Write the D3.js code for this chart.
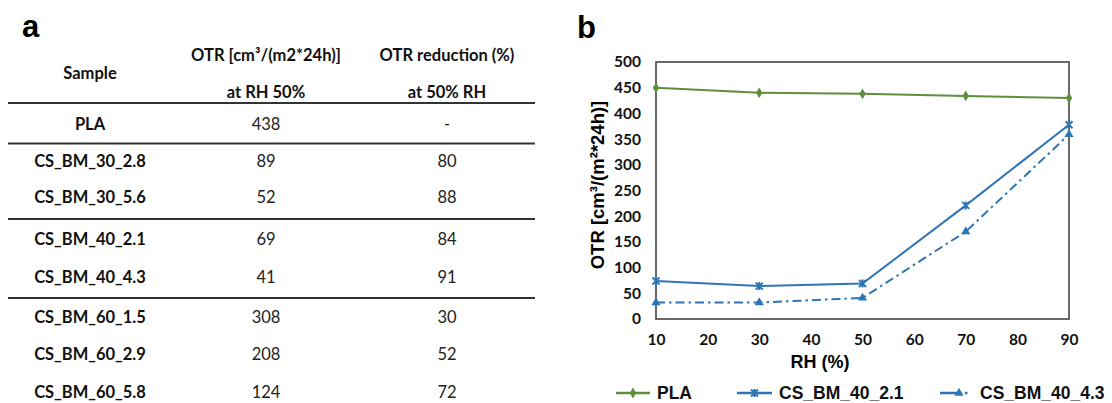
<!DOCTYPE html>
<html>
<head>
<meta charset="utf-8">
<script src="https://cdn.jsdelivr.net/npm/d3@7"></script>
<style>
  body { margin: 0; background: #fff; }
  svg { display: block; }
</style>
</head>
<body>
<script>
// table data (panel a)
var samples = ["PLA", "CS_BM_30_2.8", "CS_BM_30_5.6", "CS_BM_40_2.1", "CS_BM_40_4.3", "CS_BM_60_1.5", "CS_BM_60_2.9", "CS_BM_60_5.8"];
var otr50 = ["438", "89", "52", "69", "41", "308", "208", "124"];
var reduction = ["-", "80", "88", "84", "91", "30", "52", "72"];
var groupEnds = [0, 2, 4]; // rule under these rows

// chart data (panel b)
var rh = [10, 30, 50, 70, 90];
var pla = [450, 440, 438, 434, 430];
var bm21 = [74, 64, 69, 221, 378];
var bm43 = [32, 32, 41, 170, 359];
var xTicks = [10, 20, 30, 40, 50, 60, 70, 80, 90];
var yTicks = [0, 50, 100, 150, 200, 250, 300, 350, 400, 450, 500];

var green = "#5e8e3e", blue = "#2e75b6";
var tableFont = "Lato, 'Open Sans', sans-serif";
var chartFont = "'Liberation Sans', Arial, sans-serif";

var svg = d3.select("body").append("svg").attr("width", 1112).attr("height", 403);

// ---------- panel a : table ----------
var tab = svg.append("g");
tab.append("text").attr("x", 22).attr("y", 37).text("a")
  .style("font-family", chartFont).style("font-weight", "bold").style("font-size", "31px");

var col = [90, 266, 447];
// rows are not evenly spaced in the picture, so fixed row centres
var rowCentres = [124, 161, 197, 239, 277, 317, 354, 392];

function hdr(x, y, t) {
  tab.append("text").attr("x", x).attr("y", y).attr("text-anchor", "middle").attr("dy", "0.35em")
    .text(t).style("font-family", tableFont).style("font-weight", "bold").style("font-size", "16.5px").style("fill", "#111");
}
hdr(col[0], 73, "Sample");
hdr(col[1], 55, "OTR [cm³/(m2*24h)]");
hdr(col[1], 92, "at RH 50%");
hdr(col[2], 55, "OTR reduction (%)");
hdr(col[2], 92, "at 50% RH");

tab.append("line").attr("x1", 8).attr("x2", 535).attr("y1", 103).attr("y2", 103)
  .attr("stroke", "#333").attr("stroke-width", 2.2);

var rows = tab.selectAll("g.row").data(samples).join("g").attr("class", "row")
  .attr("transform", function(d, i) { return "translate(0," + rowCentres[i] + ")"; });
rows.append("text").attr("x", col[0]).attr("text-anchor", "middle").attr("dy", "0.35em").text(function(d) { return d; })
  .style("font-family", tableFont).style("font-weight", "bold").style("font-size", "16.5px").style("fill", "#111");
rows.append("text").attr("x", col[1]).attr("text-anchor", "middle").attr("dy", "0.35em").text(function(d, i) { return otr50[i]; })
  .style("font-family", tableFont).style("font-size", "16.5px").style("fill", "#222");
rows.append("text").attr("x", col[2]).attr("text-anchor", "middle").attr("dy", "0.35em").text(function(d, i) { return reduction[i]; })
  .style("font-family", tableFont).style("font-size", "16.5px").style("fill", "#222");

tab.selectAll("line.sep").data(groupEnds).join("line").attr("class", "sep")
  .attr("x1", 8).attr("x2", 535)
  .attr("y1", function(i) { return (rowCentres[i] + rowCentres[i + 1]) / 2 + 1; })
  .attr("y2", function(i) { return (rowCentres[i] + rowCentres[i + 1]) / 2 + 1; })
  .attr("stroke", "#333").attr("stroke-width", 2);

// ---------- panel b : chart ----------
svg.append("text").attr("x", 577).attr("y", 38).text("b")
  .style("font-family", chartFont).style("font-weight", "bold").style("font-size", "31px");

var m = { left: 656, right: 1069, top: 62, bottom: 319 };
var x = d3.scaleLinear().domain([10, 90]).range([m.left, m.right]);
var y = d3.scaleLinear().domain([0, 500]).range([m.bottom, m.top]);

var chart = svg.append("g");

var yAxis = d3.axisLeft(y).tickValues(yTicks).tickSize(0).tickPadding(15);
var xAxis = d3.axisBottom(x).tickValues(xTicks).tickSize(0).tickPadding(15);
var gy = chart.append("g").attr("transform", "translate(" + m.left + ",0)").call(yAxis);
var gx = chart.append("g").attr("transform", "translate(0," + m.bottom + ")").call(xAxis);
[gx, gy].forEach(function(g) {
  g.select(".domain").remove();
  g.selectAll("text").style("font-family", "Lato, sans-serif").style("font-weight", "bold")
    .style("font-size", "15.5px").style("fill", "#111");
});

// plot frame
chart.append("rect").attr("x", m.left).attr("y", m.top)
  .attr("width", m.right - m.left).attr("height", m.bottom - m.top)
  .attr("fill", "none").attr("stroke", "#595959").attr("stroke-width", 1.8);

chart.append("text").attr("transform", "translate(598,185) rotate(-90)")
  .attr("text-anchor", "middle").attr("dy", "0.35em").text("OTR [cm³/(m²*24h)]")
  .style("font-family", chartFont).style("font-weight", "bold").style("font-size", "18.5px");
chart.append("text").attr("x", 820).attr("y", 368).attr("text-anchor", "middle").text("RH (%)")
  .style("font-family", chartFont).style("font-weight", "bold").style("font-size", "18px");

var line = d3.line().x(function(d) { return x(d[0]); }).y(function(d) { return y(d[1]); });

var series = [
  { name: "PLA", vals: pla, color: green, dash: null, marker: "diamond" },
  { name: "CS_BM_40_2.1", vals: bm21, color: blue, dash: null, marker: "star" },
  { name: "CS_BM_40_4.3", vals: bm43, color: blue, dash: "9,4,2.5,4", marker: "triangle" }
];

function drawMarker(g, type, color) {
  if (type === "diamond") {
    g.append("path").attr("d", d3.symbol(d3.symbolDiamond, 34)()).attr("fill", color);
  } else if (type === "triangle") {
    g.append("path").attr("d", d3.symbol(d3.symbolTriangle, 36)()).attr("fill", color);
  } else {
    g.append("path").attr("d", "M-3.5,-3.5L3.5,3.5M-3.5,3.5L3.5,-3.5M0,-4L0,4")
      .attr("stroke", color).attr("stroke-width", 2).attr("fill", "none");
  }
}

series.forEach(function(s) {
  var pts = rh.map(function(r, i) { return [r, s.vals[i]]; });
  chart.append("path").datum(pts).attr("d", line).attr("fill", "none")
    .attr("stroke", s.color).attr("stroke-width", 2).attr("stroke-dasharray", s.dash);
  chart.selectAll(null).data(pts).join("g")
    .attr("transform", function(d) { return "translate(" + x(d[0]) + "," + y(d[1]) + ")"; })
    .each(function() { drawMarker(d3.select(this), s.marker, s.color); });
});

// legend
var legendX = [616, 737, 940];
var legendW = [34, 35, 30];
var leg = svg.selectAll("g.leg").data(series).join("g").attr("class", "leg")
  .attr("transform", function(d, i) { return "translate(" + legendX[i] + ",393)"; });
leg.append("line").attr("x1", 0).attr("x2", function(d, i) { return legendW[i]; })
  .attr("stroke", function(d) { return d.color; }).attr("stroke-width", 2.5)
  .attr("stroke-dasharray", function(d) { return d.dash ? "20,5,2.5,5" : null; });
leg.each(function(d, i) {
  var g = d3.select(this).append("g").attr("transform", "translate(" + (i === 2 ? 19 : legendW[i] / 2) + ",0)");
  drawMarker(g, d.marker, d.color);
});
leg.append("text").attr("x", function(d, i) { return legendW[i] + (i === 2 ? 10 : 7); }).attr("dy", "0.35em")
  .text(function(d) { return d.name; })
  .style("font-family", chartFont).style("font-weight", "bold").style("font-size", "17.5px").style("fill", "#111");
</script>
</body>
</html>
